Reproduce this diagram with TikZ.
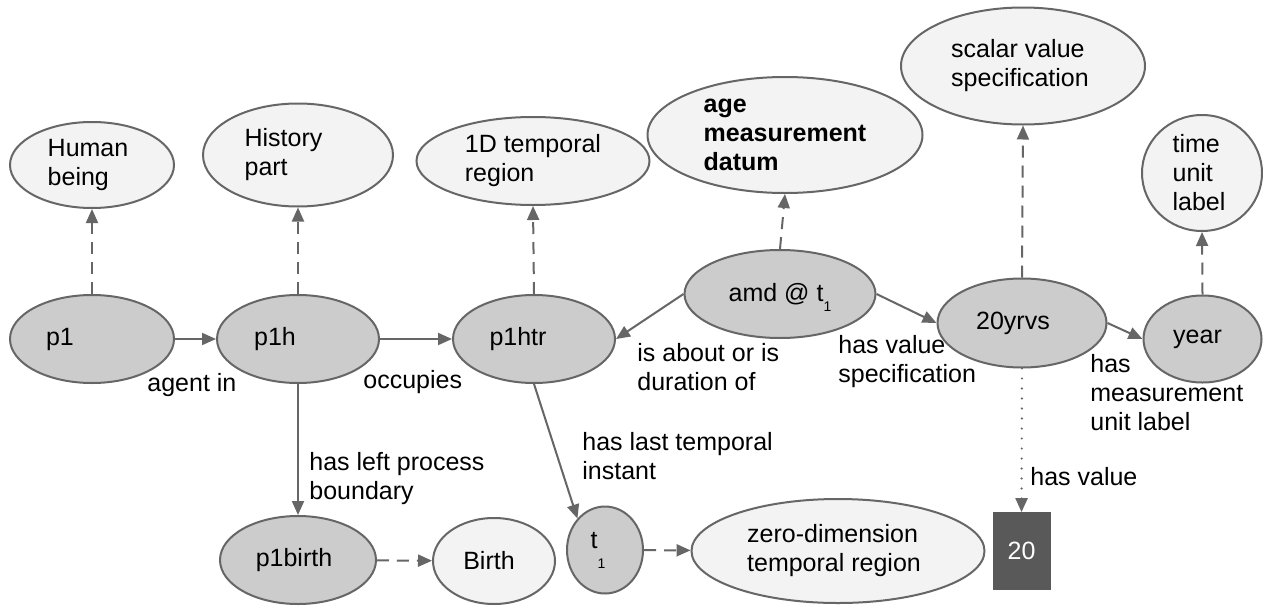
\documentclass[tikz,border=0pt]{standalone}
\usepackage{fontspec}
\setmainfont{Liberation Sans}
\usetikzlibrary{shapes.geometric,arrows.meta}
\definecolor{edgegray}{HTML}{666666}
\definecolor{lightfill}{HTML}{F3F3F3}
\definecolor{darkfill}{HTML}{CCCCCC}
\definecolor{boxfill}{HTML}{595959}
\begin{document}
\begin{tikzpicture}[x=0.5pt,y=-0.5pt,
 every node/.style={font=\fontsize{12.5}{14.5}\selectfont, text=black},
 cls/.style={ellipse, draw=edgegray, line width=1pt, fill=lightfill, inner sep=0pt, align=left},
 inst/.style={ellipse, draw=edgegray, line width=1pt, fill=darkfill, inner sep=0pt},
 rel/.style={draw=edgegray, line width=1pt, -{Triangle[length=7pt,width=6pt]}},
 typ/.style={rel, dash pattern=on 6pt off 4pt},
 val/.style={rel, line cap=round, dash pattern=on 0pt off 5pt, line width=1.2pt},
 lbl/.style={anchor=west, align=left, inner sep=0pt},
]
\useasboundingbox (0,0) rectangle (1263,605);
\fill[white] (0,0) rectangle (1263,605);

% class nodes
\node[cls, minimum width=82pt, minimum height=43pt] (human) at (92,165) {Human\hspace*{4pt}\\being};
\node[cls, minimum width=95pt, minimum height=51.5pt] (history) at (298,155) {History\hspace*{14.5pt}\\part};
\node[cls, minimum width=116.5pt, minimum height=44pt] (tdr) at (533,161) {1D temporal\\region};
\node[cls, minimum width=137.5pt, minimum height=58pt, font={\fontsize{12.5}{14.5}\selectfont\bfseries}] (amdc) at (785,135) {age\\measurement\\datum};
\node[cls, minimum width=122pt, minimum height=58.5pt] (svs) at (1023,66) {scalar value\\specification\hspace*{3pt}};
\node[cls, minimum width=60pt, minimum height=58pt] (tul) at (1202,173) {time\\unit\\label\hspace*{3pt}};

% instance nodes
\node[inst, minimum width=82pt, minimum height=44pt] (p1) at (92,339) {p1\hspace*{32pt}};
\node[inst, minimum width=81pt, minimum height=44pt] (p1h) at (298,339) {p1h\hspace*{23pt}};
\node[inst, minimum width=81pt, minimum height=44pt] (p1htr) at (534,339) {p1htr\hspace*{16pt}};
\node[inst, minimum width=95.5pt, minimum height=44pt] (amd) at (780,294) {amd @ t\smash{\raisebox{-5pt}{\fontsize{7}{7}\selectfont 1}}};
\node[inst, minimum width=84.5pt, minimum height=44.5pt] (yrvs) at (1022,323) {20yrvs\hspace*{9pt}};
\node[inst, minimum width=59pt, minimum height=43.5pt] (year) at (1202.5,339) {year\hspace*{5pt}};
\node[inst, minimum width=78pt, minimum height=44pt] (p1birth) at (298,560) {p1birth\hspace*{4pt}};
\node[cls, minimum width=61pt, minimum height=43pt] (birth) at (494,561) {Birth\hspace*{5pt}};
\node[inst, minimum width=38pt, minimum height=43.5pt] (t1) at (605,550) {t\raisebox{-10pt}{\fontsize{7}{7}\selectfont 1}\hspace*{7pt}};
\node[cls, minimum width=146.5pt, minimum height=52pt] (zero) at (838,551) {zero-dimension\\temporal region\hspace*{4pt}};
\node[draw=boxfill, fill=boxfill, text=white, minimum width=28.5pt, minimum height=38.5pt, inner sep=0pt] (v20) at (1021.5,551) {20};

% relations
\draw[rel] (p1) -- (p1h);
\draw[rel] (p1h) -- (p1htr);
\draw[rel] (amd.west) -- (p1htr.east);
\draw[rel] (amd.east) -- (yrvs.west);
\draw[rel] (yrvs.east) -- (year.west);
\draw[rel] (p1h) -- (p1birth);
\draw[rel] (p1htr.south) -- (t1.north west);

% instance-of
\draw[typ] (p1) -- (human);
\draw[typ] (p1h) -- (history);
\draw[typ] (p1htr.north) -- (tdr.south);
\draw[typ] (amd.north) -- (amdc.south);
\draw[typ] (yrvs.north) -- (svs.south);
\draw[typ] (year.north) -- (tul.south);
\draw[typ] (p1birth) -- (birth);
\draw[typ] (t1) -- (zero);

% value
\draw[val] (yrvs.south) -- (v20.north);

% labels
\node[lbl] (lagent) at (147,385) {agent in};
\node[lbl] (loccupies) at (363,382) {occupies};
\node[lbl] (lleft) at (309,479) {has left process\\boundary};
\node[lbl] (llast) at (582,456) {has last temporal\\instant};
\node[lbl] (labout) at (637,367.5) {is about or is\\duration of};
\node[lbl] (lhasvs) at (838,362) {has value\\specification};
\node[lbl] (lunit) at (1090,393) {has\\measurement\\unit label};
\node[lbl] (lval) at (1030,477) {has value};
\end{tikzpicture}
\end{document}
